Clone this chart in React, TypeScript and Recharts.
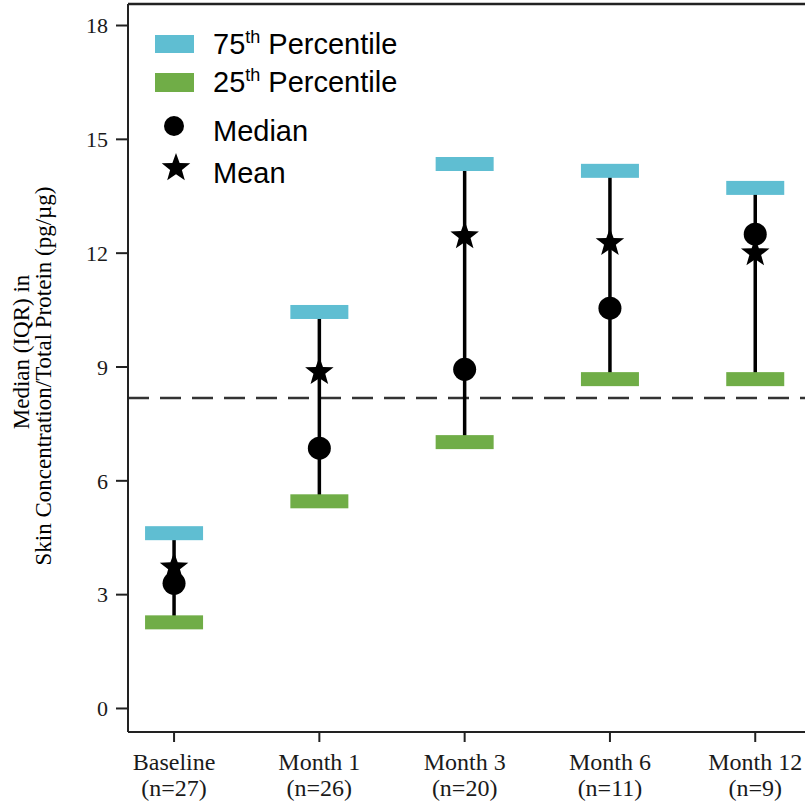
import React from 'react';
import { ComposedChart, Scatter, XAxis, YAxis, ReferenceLine, Legend } from 'recharts';

const categories = ['Baseline', 'Month 1', 'Month 3', 'Month 6', 'Month 12'];
const sampleSizes = ['(n=27)', '(n=26)', '(n=20)', '(n=11)', '(n=9)'];
const p75 = [4.62, 10.45, 14.35, 14.17, 13.72];
const p25 = [2.27, 5.46, 7.02, 8.68, 8.68];
const medians = [3.3, 6.86, 8.94, 10.55, 12.5];
const means = [3.72, 8.87, 12.45, 12.27, 12.0];
const referenceValue = 8.18;
const yTicks = [0, 3, 6, 9, 12, 15, 18];

const yDomain: [number, number] = [-0.62, 18.567];
const xDomain: [number, number] = [-0.317, 4.721];

const CYAN = '#5FBED2';
const GREEN = '#70AD47';
const AXIS = '#222';
const SERIF = '"Liberation Serif", "Times New Roman", serif';
const SANS = '"Liberation Sans", Arial, sans-serif';

const idx = categories.map((_, i) => i);
const p75Data = idx.map((i) => ({ x: i, y: p75[i] }));
const p25Data = idx.map((i) => ({ x: i, y: p25[i] }));
const medianData = idx.map((i) => ({ x: i, y: medians[i] }));
const meanData = idx.map((i) => ({ x: i, y: means[i] }));
const whiskerData = idx.map((i) => [
  { x: i, y: p25[i] },
  { x: i, y: p75[i] },
]);

function starPath(cx: number, cy: number, R: number, r: number) {
  const pts: string[] = [];
  for (let k = 0; k < 10; k++) {
    const ang = -Math.PI / 2 + (k * Math.PI) / 5;
    const rad = k % 2 === 0 ? R : r;
    pts.push(`${(cx + rad * Math.cos(ang)).toFixed(2)},${(cy + rad * Math.sin(ang)).toFixed(2)}`);
  }
  return `M${pts.join('L')}Z`;
}

const BarMark = (color: string) => (props: any) => {
  const { cx, cy } = props;
  if (cx == null || cy == null) return <g />;
  return <rect x={cx - 29} y={cy - 7} width={58} height={14} fill={color} />;
};

const CircleMark = (props: any) => {
  const { cx, cy } = props;
  if (cx == null || cy == null) return <g />;
  return <circle cx={cx} cy={cy} r={11.5} fill="#000" />;
};

const StarMark = (props: any) => {
  const { cx, cy } = props;
  if (cx == null || cy == null) return <g />;
  return <path d={starPath(cx, cy, 15, 6.2)} fill="#000" />;
};

const NoMark = () => <g />;

const XTick = (props: any) => {
  const { x, y, payload } = props;
  const i = payload.value as number;
  return (
    <g>
      <text x={x} y={y + 28} textAnchor="middle" fontFamily={SERIF} fontSize={24} fill="#1a1a1a">
        {categories[i]}
      </text>
      <text x={x} y={y + 54} textAnchor="middle" fontFamily={SERIF} fontSize={24} fill="#1a1a1a">
        {sampleSizes[i]}
      </text>
    </g>
  );
};

const YLabel = () => (
  <g>
    <text
      x={29}
      y={352}
      transform="rotate(-90, 29, 352)"
      textAnchor="middle"
      fontFamily={SERIF}
      fontSize={23}
      fill="#000"
    >
      Median (IQR) in
    </text>
    <text
      x={51}
      y={376}
      transform="rotate(-90, 51, 376)"
      textAnchor="middle"
      fontFamily={SERIF}
      fontSize={23}
      fill="#000"
    >
      Skin Concentration/Total Protein (pg/µg)
    </text>
  </g>
);

const LegendBox = () => (
  <svg width={270} height={180} style={{ display: 'block' }}>
    <rect x={5} y={15} width={39} height={18} fill={CYAN} />
    <text x={63} y={34} fontFamily={SANS} fontSize={29} fill="#000">
      75<tspan fontSize={18} dy={-11}>th</tspan>
      <tspan dy={11}> Percentile</tspan>
    </text>
    <rect x={5} y={53} width={39} height={19} fill={GREEN} />
    <text x={63} y={72} fontFamily={SANS} fontSize={29} fill="#000">
      25<tspan fontSize={18} dy={-11}>th</tspan>
      <tspan dy={11}> Percentile</tspan>
    </text>
    <circle cx={24} cy={106} r={10} fill="#000" />
    <text x={63} y={121} fontFamily={SANS} fontSize={29} fill="#000">
      Median
    </text>
    <path d={starPath(26, 148, 15, 6.2)} fill="#000" />
    <text x={63} y={163} fontFamily={SANS} fontSize={29} fill="#000">
      Mean
    </text>
  </svg>
);

export default function App() {
  return (
    <div
      style={{
        position: 'absolute',
        left: 0,
        top: 0,
        width: 805,
        height: 803,
        overflow: 'hidden',
        background: '#fff',
      }}
    >
      <ComposedChart width={860} height={803} margin={{ top: 4, right: 0, bottom: 0, left: 0 }}>
        <XAxis
          type="number"
          dataKey="x"
          domain={xDomain}
          ticks={idx}
          interval={0}
          allowDataOverflow
          height={71}
          tickSize={10}
          tickMargin={0}
          tick={<XTick />}
          axisLine={{ stroke: AXIS, strokeWidth: 2 }}
          tickLine={{ stroke: AXIS, strokeWidth: 2 }}
        />
        <YAxis
          type="number"
          dataKey="y"
          domain={yDomain}
          ticks={yTicks}
          interval={0}
          allowDataOverflow
          width={128}
          tickSize={12}
          tickMargin={8}
          tick={{ fill: '#1a1a1a', fontSize: 22, fontFamily: SERIF }}
          axisLine={{ stroke: AXIS, strokeWidth: 2 }}
          tickLine={{ stroke: AXIS, strokeWidth: 2 }}
          label={{ content: <YLabel /> } as any}
        />
        <ReferenceLine y={yDomain[1]} stroke={AXIS} strokeWidth={2.5} />
        <ReferenceLine y={referenceValue} stroke="#333" strokeWidth={2.5} strokeDasharray="21 11" />
        {whiskerData.map((d, i) => (
          <Scatter
            key={`w${i}`}
            data={d}
            line={{ stroke: '#000', strokeWidth: 3.5 }}
            lineType="joint"
            shape={NoMark}
            isAnimationActive={false}
            legendType="none"
          />
        ))}
        <Scatter data={p75Data} shape={BarMark(CYAN)} isAnimationActive={false} />
        <Scatter data={p25Data} shape={BarMark(GREEN)} isAnimationActive={false} />
        <Scatter data={meanData} shape={StarMark} isAnimationActive={false} />
        <Scatter data={medianData} shape={CircleMark} isAnimationActive={false} />
        <Legend
          layout="vertical"
          align="center"
          verticalAlign="middle"
          content={() => <LegendBox />}
          wrapperStyle={{ position: 'absolute', left: 150, top: 20, width: 270, height: 180 }}
        />
      </ComposedChart>
    </div>
  );
}
